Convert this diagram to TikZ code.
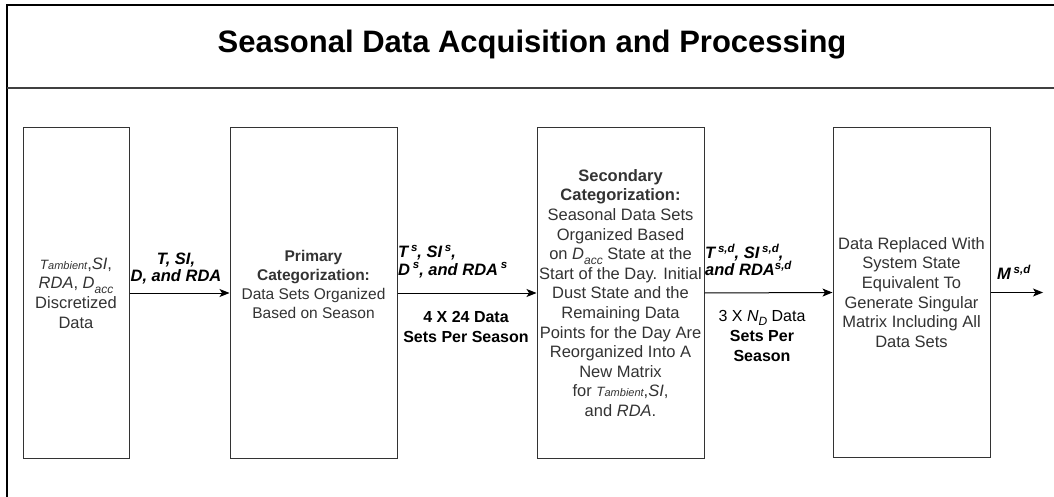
\documentclass[tikz,border=0pt]{standalone}
\usepackage{fontspec}
\setmainfont{Liberation Sans}
\usetikzlibrary{arrows.meta}
\definecolor{boxline}{HTML}{333333}
\definecolor{txt}{HTML}{333333}
\newcommand\lsb[1]{\raisebox{-0.28em}{\fontsize{12}{12}\selectfont #1}}
\newcommand\lsp[1]{\raisebox{0.38em}{\fontsize{11.5}{11.5}\selectfont #1}}
\newcommand\Tamb{{\itshape\fontsize{13.5}{13.5}\selectfont T\fontsize{11}{11}\selectfont ambient}}
\begin{document}
\begin{tikzpicture}[x=1pt,y=-1pt,
  frame/.style={line width=1.4pt,draw=black},
  divider/.style={line width=1.2pt,draw=black!75},
  box/.style={draw=boxline,line width=1pt,inner sep=0pt,align=center,text=txt,
    font=\fontsize{16.5}{19.6}\selectfont},
  bodytxt/.style={inner sep=0pt,align=center,text=txt,font=\fontsize{15.5}{19}\selectfont},
  arr/.style={line width=1pt,draw=black,-{Stealth[length=10pt,width=8pt,inset=2.5pt]}},
  lbl/.style={inner sep=0pt,text=black,font=\bfseries\itshape\fontsize{16.5}{17.5}\selectfont},
  sublbl/.style={inner sep=0pt,align=center,text=black,font=\bfseries\fontsize{16}{20}\selectfont}]
\useasboundingbox (0,0) rectangle (1054,497);
\clip (0,0) rectangle (1054,497);
\fill[white] (0,0) rectangle (1054,497);
% frame
\draw[frame] (7,510) -- (7,5) -- (1070,5);
\draw[divider] (7,88) -- (1070,88);
\node[inner sep=0pt,font=\bfseries\fontsize{31}{31}\selectfont] (title) at (532,45) {Seasonal Data Acquisition and Processing};
% boxes
\node[box,minimum width=106,minimum height=330] (b1) at (76,293)
  {\Tamb,\textit{SI},\\ \textit{RDA}, \textit{D}\lsb{\itshape acc}\\Discretized\\Data};
\node[box,minimum width=167,minimum height=330] (b2) at (313.5,293) {};
\node[bodytxt] (b2t) at (313.5,284)
  {\textbf{Primary}\\\textbf{Categorization:}\\Data Sets Organized\\Based on Season};
\node[box,minimum width=167,minimum height=330] (b3) at (620.5,293)
  {\textbf{Secondary}\\\textbf{Categorization:}\\Seasonal Data Sets\\Organized Based\\on \textit{D}\lsb{\itshape acc} State at the\\Start of the Day. Initial\\Dust State and the\\Remaining Data\\Points for the Day Are\\Reorganized Into A\\New Matrix\\for \Tamb,\textit{SI},\\and \textit{RDA}.};
\node[box,minimum width=157,minimum height=330] (b4) at (911.5,292.5)
  {Data Replaced With\\System State\\Equivalent To\\Generate Singular\\Matrix Including All\\Data Sets};
\coordinate (out) at (1043,292.5);
% arrows
\draw[arr] (b1.east) -- (b2.west);
\draw[arr] (b2.east) -- (b3.west);
\draw[arr] (b3.east) -- (b4.west);
\draw[arr] (b4.east) -- (out);
% labels
\node[lbl,align=center] (l1) at (176,268.5) {T, SI,\\D, and RDA};
\node[lbl,align=left,anchor=west] (l2) at (398,261.5) {T\,\lsp{s}, SI\,\lsp{s},\\D\,\lsp{s}, and RDA\,\lsp{s}};
\node[sublbl] (l2b) at (466,327) {4 X 24 Data\\Sets Per Season};
\node[lbl,align=left,anchor=west] (l3) at (705,260) {T\,\lsp{s,d}, SI\,\lsp{s,d},\\and RDA\lsp{s,d}};
\node[sublbl] (l3b) at (762,336) {{\mdseries 3 X \textit{N}\lsb{\itshape D} Data}\\Sets Per\\Season};
\node[lbl,anchor=west] (l4) at (997,272) {M\,\lsp{s,d}};
\end{tikzpicture}
\end{document}
